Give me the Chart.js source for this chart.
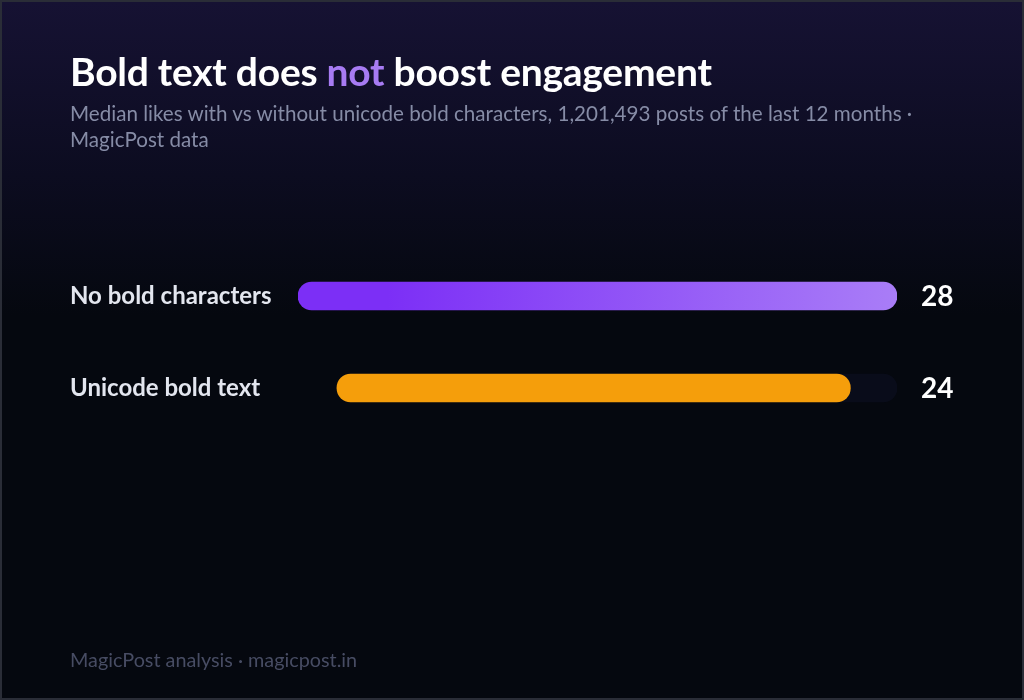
<!DOCTYPE html>
<html>
<head>
<meta charset="utf-8">
<script src="https://cdn.jsdelivr.net/npm/chart.js@4"></script>
<style>
  html, body { margin: 0; padding: 0; }
  body {
    width: 1024px; height: 700px; overflow: hidden;
    font-family: Lato, "Noto Sans", sans-serif;
  }
  .card {
    position: relative; box-sizing: border-box;
    width: 1024px; height: 700px;
    border: 2px solid #2a2d37;
    background: linear-gradient(180deg, #161233 0%, #0c0c20 25%, #05080f 45%, #05080f 100%);
  }
  h1 {
    position: absolute; left: 68px; top: 50px; margin: 0;
    font-size: 39px; line-height: 39px; font-weight: 700; color: #ffffff; letter-spacing: -0.25px;
  }
  h1 span { color: #a77bf3; }
  .sub {
    position: absolute; left: 68px; top: 98px; width: 870px; margin: 0;
    font-size: 20.6px; line-height: 26px; color: #868ca6;
  }
  .foot {
    position: absolute; left: 68px; top: 645px; margin: 0;
    font-size: 19.8px; line-height: 24px; color: #474c63;
  }
  canvas { position: absolute; left: 0; top: 0; }
</style>
</head>
<body>
<div class="card">
  <canvas id="chart" width="1020" height="696"></canvas>
  <h1>Bold text does <span>not</span> boost engagement</h1>
  <p class="sub">Median likes with vs without unicode bold characters, 1,201,493 posts of the last 12 months · MagicPost data</p>
  <p class="foot">MagicPost analysis · magicpost.in</p>
</div>
<script>
// Data
const categories = ['No bold characters', 'Unicode bold text'];
const medianLikes = [28, 24];
const axisMax = 28;
// the second bar sits slightly indented in the reference
const barIndent = [0, 1.82];

const floating = medianLikes.map((v, i) => [barIndent[i], barIndent[i] + v]);
const track = categories.map((c, i) => [barIndent[i], axisMax]);

const valueLabels = {
    id: 'valueLabels',
    afterDatasetsDraw(chart) {
        const ctx = chart.ctx;
        const meta = chart.getDatasetMeta(0);
        ctx.save();
        ctx.font = 'bold 28px Lato';
        ctx.fillStyle = '#ffffff';
        ctx.textAlign = 'left';
        ctx.textBaseline = 'middle';
        meta.data.forEach((bar, i) => {
            ctx.fillText(String(medianLikes[i]), chart.chartArea.right + 24, bar.y + 1);
        });
        ctx.restore();
    }
};

const ctx = document.getElementById('chart').getContext('2d');
new Chart(ctx, {
    type: 'bar',
    data: {
        labels: categories,
        datasets: [
            {
                data: floating,
                backgroundColor: function(context) {
                    const area = context.chart.chartArea;
                    if (!area) return '#7c3aed';
                    if (context.dataIndex === 1) return '#f59e0b';
                    const g = context.chart.ctx.createLinearGradient(area.left, 0, area.right, 0);
                    g.addColorStop(0, '#7c2ff6');
                    g.addColorStop(0.15, '#7c2ff6');
                    g.addColorStop(1, '#a97df7');
                    return g;
                },
                borderRadius: 14,
                borderSkipped: false,
                barThickness: 28,
                grouped: false
            },
            {
                data: track,
                backgroundColor: 'rgba(60,60,140,0.09)',
                borderRadius: 14,
                borderSkipped: false,
                barThickness: 28,
                grouped: false
            }
        ]
    },
    options: {
        indexAxis: 'y',
        responsive: false,
        animation: false,
        layout: { padding: { left: 68, right: 125, top: 248, bottom: 264 } },
        plugins: { legend: { display: false }, tooltip: { enabled: false } },
        scales: {
            x: { display: false, min: 0, max: axisMax },
            y: {
                grid: { display: false },
                border: { display: false },
                ticks: {
                    crossAlign: 'far',
                    color: '#e3e6ef',
                    font: { family: 'Lato', size: 24, weight: 'bold' },
                    padding: 0
                },
                afterFit(scale) { scale.width = 228; }
            }
        }
    },
    plugins: [valueLabels]
});
</script>
</body>
</html>
